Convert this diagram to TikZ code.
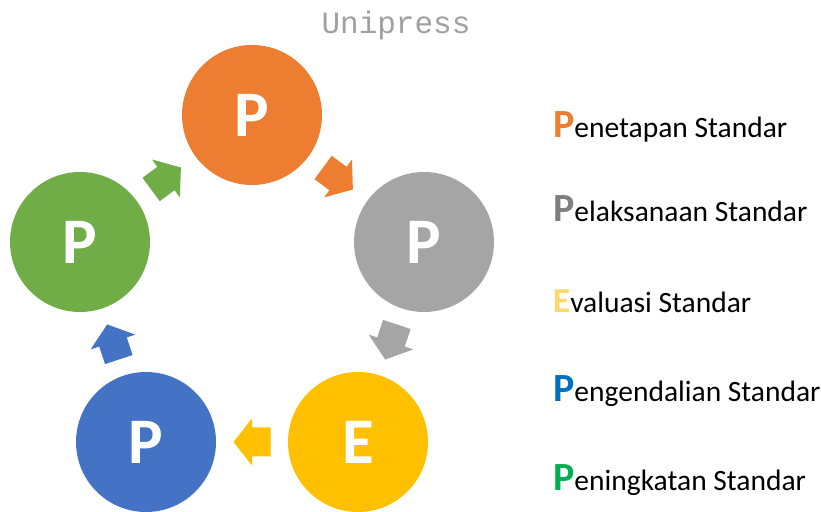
\documentclass[tikz,border=0pt]{standalone}
\usepackage{fontspec}
\setmainfont{Carlito}
\newfontfamily\monof{Liberation Mono}
\usetikzlibrary{calc}
\definecolor{cOr}{HTML}{ED7D31}
\definecolor{cGr}{HTML}{A5A5A5}
\definecolor{cYe}{HTML}{FFC000}
\definecolor{cBl}{HTML}{4472C4}
\definecolor{cGn}{HTML}{70AD47}
\definecolor{lOr}{HTML}{ED7D31}
\definecolor{lGr}{HTML}{7F7F7F}
\definecolor{lYe}{HTML}{FFD966}
\definecolor{lBl}{HTML}{0070C0}
\definecolor{lGn}{HTML}{00B050}
\definecolor{tGr}{HTML}{A0A0A0}
\tikzset{
  stage/.style={circle, minimum size=140pt, inner sep=0pt, text=white,
    font=\fontsize{65}{65}\selectfont\bfseries},
  legend/.style={anchor=base west, inner sep=0pt, font=\fontsize{29.5}{29.5}\selectfont},
  blockarrow/.pic={\path[pic actions] (-18.5,-14.5) -- (0,-14.5) -- (0,-23.5) -- (18.5,0)
     -- (0,23.5) -- (0,14.5) -- (-18.5,14.5) -- cycle;}
}
\newcommand{\bigL}[2]{{\fontsize{40}{40}\selectfont\bfseries\color{#1}#2}}
\begin{document}
\begin{tikzpicture}[x=1pt,y=1pt]
\useasboundingbox (0,0) rectangle (821,511);
\node[font=\monof\fontsize{31}{31}\selectfont, text=tGr] (title) at (396,486) {Unipress};
\node[stage, fill=cOr] (o) at (252,396) {P};
\node[stage, fill=cGr] (g) at (424,269) {P};
\node[stage, fill=cYe] (y) at (358,69) {E};
\node[stage, fill=cBl] (b) at (146,69) {P};
\node[stage, fill=cGn] (n) at (80,269) {P};
\pic[fill=cGn, rotate=36.4] at ($(n)!0.5!(o)$) {blockarrow};
\pic[fill=cOr, rotate=-36.4] at ($(o)!0.5!(g)$) {blockarrow};
\pic[fill=cGr, rotate=-108.3] at ($(g)!0.5!(y)$) {blockarrow};
\pic[fill=cYe, rotate=180] at ($(y)!0.5!(b)$) {blockarrow};
\pic[fill=cBl, rotate=108.3] at ($(b)!0.5!(n)$) {blockarrow};
\node[legend] (l1) at (553,373) {\bigL{lOr}{P}enetapan Standar};
\node[legend] (l2) at (553,289) {\bigL{lGr}{P}elaksanaan Standar};
\node[legend] (l3) at (553,198) {{\fontsize{35}{35}\selectfont\bfseries\color{lYe}E}valuasi Standar};
\node[legend] (l4) at (553,109) {\bigL{lBl}{P}engendalian Standar};
\node[legend] (l5) at (553,21) {\bigL{lGn}{P}eningkatan Standar};
\end{tikzpicture}
\end{document}
